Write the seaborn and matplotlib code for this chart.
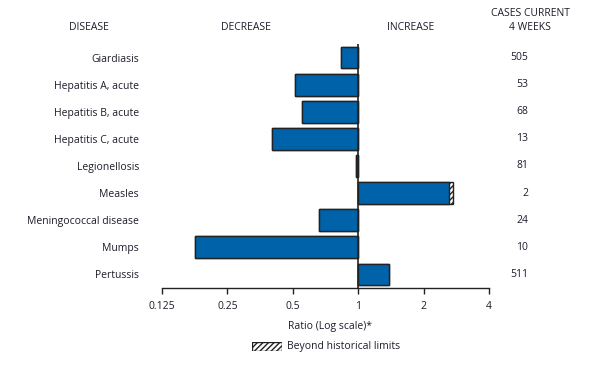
import numpy as np
import pandas as pd
import matplotlib
matplotlib.use("Agg")
import matplotlib.pyplot as plt
import seaborn as sns

diseases = ["Giardiasis", "Hepatitis A, acute", "Hepatitis B, acute", "Hepatitis C, acute",
            "Legionellosis", "Measles", "Meningococcal disease", "Mumps", "Pertussis"]
ratios = [0.83, 0.51, 0.55, 0.40, 0.975, 2.72, 0.66, 0.178, 1.385]
hist_limits = [None, None, None, None, None, 2.63, None, None, None]
cases = [505, 53, 68, 13, 81, 2, 24, 10, 511]
tick_values = [0.125, 0.25, 0.5, 1, 2, 4]
tick_labels = ["0.125", "0.25", "0.5", "1", "2", "4"]

sns.set_theme(style="white")
plt.rcParams['font.family'] = ['Open Sans', 'DejaVu Sans']
TXT = "#1d1d2b"
BLUE = "#0062a8"
EDGE = "#222222"
FS = 7.5

solid = [min(r, l) if l is not None else r for r, l in zip(ratios, hist_limits)]
df = pd.DataFrame({
    "disease": diseases,
    "log_full": np.log2(ratios),
    "log_solid": np.log2(solid),
})

fig = plt.figure(figsize=(6.06, 3.65), dpi=100)
ax = fig.add_axes([162/606, 1-288/365, (489-162)/606, (288-44)/365])

sns.barplot(data=df, x="log_full", y="disease", orient="h", color="white",
            edgecolor=EDGE, linewidth=1.0, hatch="//////", width=0.8, ax=ax)
sns.barplot(data=df, x="log_solid", y="disease", orient="h", color=BLUE,
            edgecolor=EDGE, linewidth=1.0, width=0.8, ax=ax, saturation=1)

ax.axvline(0, color=EDGE, lw=1.2, zorder=5)
ax.set_xlim(np.log2(tick_values[0]), np.log2(tick_values[-1]))
ax.set_ylim(len(diseases) - 0.5, -0.5)
ax.set_xticks(np.log2(tick_values))
ax.set_xticklabels(tick_labels, fontsize=FS, color=TXT)
ax.tick_params(axis="x", direction="out", length=4, width=1, color=EDGE, pad=5.5, bottom=True)
ax.tick_params(axis="y", length=0, pad=16.5, labelsize=FS, labelcolor=TXT)
for s in ["top", "right", "left"]:
    ax.spines[s].set_visible(False)
ax.spines["bottom"].set_color(EDGE)
ax.spines["bottom"].set_linewidth(1)
ax.set_xlabel("")
ax.set_ylabel("")

for i, c in enumerate(cases):
    ax.text((528-162)/327, i, str(c), transform=ax.get_yaxis_transform(),
            ha="right", va="center", fontsize=FS, color=TXT)

fig.text(89/606, 1-28/365, "DISEASE", ha="center", va="center", fontsize=FS, color=TXT)
fig.text(246/606, 1-28/365, "DECREASE", ha="center", va="center", fontsize=FS, color=TXT)
fig.text(411/606, 1-28/365, "INCREASE", ha="center", va="center", fontsize=FS, color=TXT)
fig.text(530/606, 1-14/365, "CASES CURRENT", ha="center", va="center", fontsize=FS, color=TXT)
fig.text(530/606, 1-28/365, "4 WEEKS", ha="center", va="center", fontsize=FS, color=TXT)
fig.text(330/606, 1-327/365, "Ratio (Log scale)*", ha="center", va="center", fontsize=FS, color=TXT)

lax = fig.add_axes([252/606, 1-351/365, 30/606, 9/365])
lax.add_patch(plt.Rectangle((0, 0), 1, 1, facecolor="white", edgecolor=EDGE,
                            hatch="//////", linewidth=1, transform=lax.transAxes))
lax.set_axis_off()
fig.text(287/606, 1-347/365, "Beyond historical limits", ha="left", va="center", fontsize=FS, color=TXT)

fig.savefig("out.png", dpi=100)
